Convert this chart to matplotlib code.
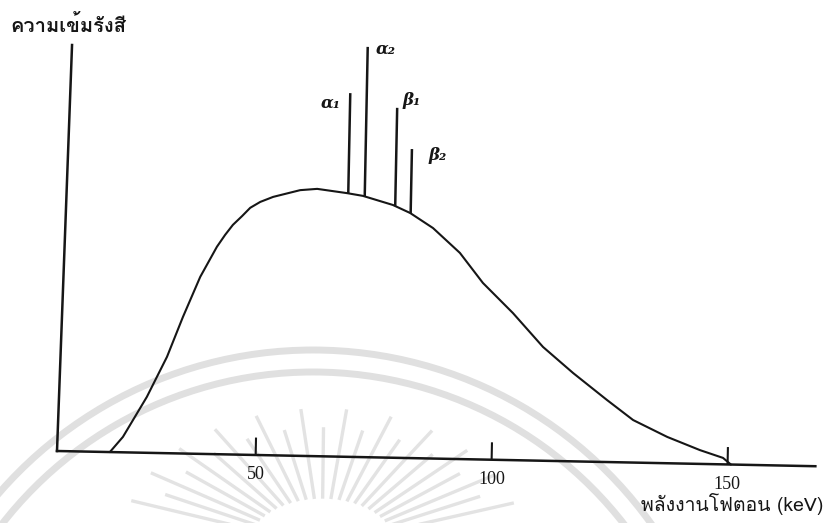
import numpy as np
import matplotlib
matplotlib.use('Agg')
import matplotlib.pyplot as plt
from matplotlib import font_manager, transforms
from matplotlib.ft2font import FT2Font
from matplotlib.patches import Arc

# continuous (bremsstrahlung) spectrum
energy = [19.1, 21.8, 26.7, 30.8, 34.0, 37.5, 40.9, 42.6, 44.2, 46.1, 47.8,
          49.9, 52.6, 58.3, 61.9, 68.2, 71.6, 78.0, 81.7, 86.6, 92.4, 97.4,
          103.9, 110.4, 116.9, 124.2, 129.8, 137.1, 144.1, 149.0, 150.7]
intensity = [0.0, 3.8, 13.8, 23.8, 33.7, 43.7, 51.2, 54.2, 56.7, 58.9, 61.0,
             62.5, 63.8, 65.6, 66.0, 65.1, 64.5, 62.4, 60.5, 56.9, 50.9, 43.6,
             36.3, 28.1, 21.8, 15.3, 10.5, 6.5, 3.4, 1.6, 0.0]

# characteristic lines
line_names = ['α₁', 'α₂', 'β₁', 'β₂']
line_energy = [68.5, 72.0, 78.5, 81.8]
line_top = [89.8, 101.3, 86.4, 76.3]

ticks = [50, 100, 150]


def thai_family():
    for f in font_manager.fontManager.ttflist:
        try:
            if 0x0E01 in FT2Font(f.fname).get_charmap():
                return f.name
        except Exception:
            pass
    return 'DejaVu Sans'


thai = [thai_family(), 'DejaVu Sans']

W, H = 824, 523
fig = plt.figure(figsize=(W / 100, H / 100), dpi=100)
ax = fig.add_axes([0, 0, 1, 1])
ax.axis('off')

# axes corner sits at pixel (57, 451 from top); the drawing is slightly tilted
x0, y0 = 57, H - 451
kev0 = 7.9
sx, sy = 4.72, 4.05
ax.set_xlim(kev0 - x0 / sx, kev0 + (W - x0) / sx)
ax.set_ylim(-y0 / sy, (H - y0) / sy)
tr = ax.transData + transforms.Affine2D().rotate_deg_around(x0, y0, -1.15)

# faint emblem in the background
ident = transforms.IdentityTransform()
for r in (416, 394):
    fig.add_artist(Arc((313, H - 766), 2 * r, 2 * r, theta1=30, theta2=150,
                       lw=5, color='#e0e0e0', transform=ident, zorder=0))
cx, cy = 322, H - 545
for i, a in enumerate(np.arange(18, 164, 6.5)):
    k = 1.0 if i % 2 == 0 else 0.86
    t = np.radians(a)
    c, s = np.cos(t), np.sin(t)
    fig.add_artist(plt.Line2D([cx + 75 * c, cx + 200 * k * c],
                              [cy + 48 * s, cy + 135 * k * s],
                              lw=2.4, color='#e3e3e3', transform=ident, zorder=0))

ink = '#161616'
# axes
ax.plot([kev0, 168.6], [0, 0], color=ink, lw=1.8, transform=tr)
ax.plot([kev0, kev0 + 1.46], [0, 100.3], color=ink, lw=1.8, transform=tr)
ax.vlines(ticks, 0, 4.3, color=ink, lw=1.5, transform=tr)
for t in ticks:
    ax.text(t, -2.8, str(t), ha='center', va='top', fontsize=13,
            family='Liberation Serif', color=ink, transform=tr)

# spectrum
ax.plot(energy, intensity, color=ink, lw=1.5, solid_joinstyle='round',
        solid_capstyle='round', transform=tr)
base = np.interp(line_energy, energy, intensity)
ax.vlines(line_energy, base, line_top, color=ink, lw=1.8, transform=tr)

label_off = [(-4.0, -2.5), (3.8, -0.5), (3.0, 2.0), (5.5, -1.5)]
for name, e, top, (dx, dy) in zip(line_names, line_energy, line_top, label_off):
    ax.text(e + dx, top + dy, name, ha='center', va='center', fontsize=12,
            family='DejaVu Serif', style='italic', weight='bold', color=ink,
            transform=tr)

fig.text(10 / W, 1 - 25 / H, 'ความเข้มรังสี', ha='left', va='center',
         fontsize=14.5, weight='bold', family=thai, color=ink)
fig.text(823 / W, 1 - 504 / H, 'พลังงานโฟตอน (keV)', ha='right', va='center',
         fontsize=14, family=thai, color=ink)

fig.savefig('out.png', dpi=100, facecolor='white')
